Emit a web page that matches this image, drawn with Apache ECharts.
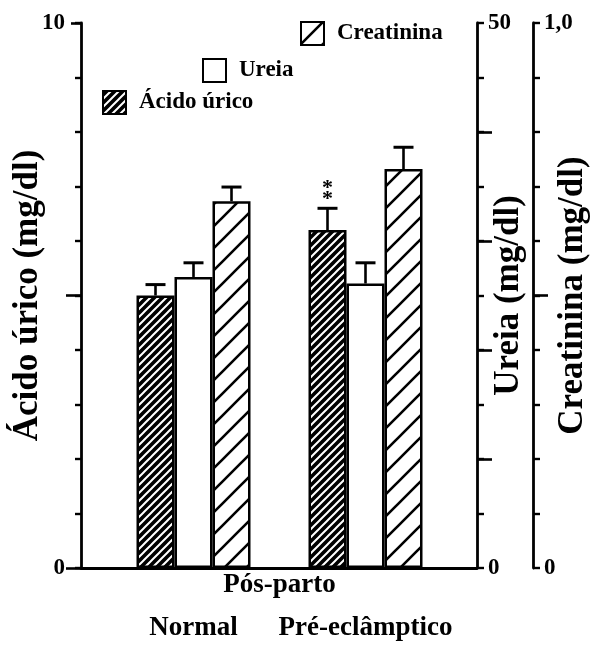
<!DOCTYPE html>
<html>
<head>
<meta charset="utf-8">
<script src="https://cdn.jsdelivr.net/npm/echarts@6/dist/echarts.min.js"></script>
<style>
  html, body { margin: 0; padding: 0; background: #fff; }
  #chart { width: 590px; height: 645px; }
</style>
</head>
<body>
<div id="chart"></div>
<script>
// Groups and measured means (error = standard error)
const groups = ['Normal', 'Pré-eclâmptico'];
const acidoUrico = [5.0, 6.2];
const acidoUricoErr = [0.2, 0.4];
const ureia = [26.7, 26.1];
const ureiaErr = [1.3, 1.9];
const creatinina = [0.673, 0.732];
const creatininaErr = [0.026, 0.04];
const significance = ['', '**'];

const FONT = "'Liberation Serif', 'Times New Roman', serif";
const INK = '#000';

// Diagonal "/" hatching tile
function hatchTile(size, bg, fg, width) {
  const c = document.createElement('canvas');
  c.width = size; c.height = size;
  const g = c.getContext('2d');
  g.fillStyle = bg; g.fillRect(0, 0, size, size);
  g.strokeStyle = fg; g.lineWidth = width;
  g.beginPath();
  for (let k = -1; k <= 1; k++) {
    g.moveTo(k * size - 1, size + 1);
    g.lineTo(k * size + size + 1, -1);
  }
  g.stroke();
  return { image: c, repeat: 'repeat' };
}
const denseHatch = hatchTile(8, '#000', '#fff', 2.0);
const wideHatch = hatchTile(22, '#fff', '#000', 2.6);

const BAR_W = 38;
const axisLineStyle = { color: INK, width: 2.8 };
const tickLabel = { color: INK, fontFamily: FONT, fontWeight: 'bold', fontSize: 23 };
const axisName = { color: INK, fontFamily: FONT, fontWeight: 'bold', fontSize: 35 };

// Axis carrying only extra (longer) tick marks at chosen values
function tickOverlay(min, max, values, len, extra) {
  return Object.assign({
    type: 'value', gridIndex: 0, min: min, max: max,
    axisLine: { show: false },
    axisTick: { show: true, customValues: values, length: len, lineStyle: { color: INK, width: 2.6 } },
    axisLabel: { show: false },
    splitLine: { show: false }
  }, extra);
}

function errorSeries(values, errs, yIdx, offset, marks) {
  return {
    type: 'custom',
    xAxisIndex: 1,
    yAxisIndex: yIdx,
    z: 5,
    silent: true,
    data: values.map((v, i) => [i, v, v + errs[i]]),
    renderItem: function (params, api) {
      const base = api.coord([api.value(0), api.value(1)]);
      const top = api.coord([api.value(0), api.value(2)]);
      const x = base[0] + offset;
      const children = [
        { type: 'line', shape: { x1: x, y1: base[1], x2: x, y2: top[1] },
          style: { stroke: INK, lineWidth: 2.6 } },
        { type: 'line', shape: { x1: x - 10, y1: top[1], x2: x + 10, y2: top[1] },
          style: { stroke: INK, lineWidth: 3 } }
      ];
      const mark = marks ? marks[params.dataIndex] : '';
      if (mark) {
        children.push({
          type: 'text',
          style: {
            x: x, y: top[1] - 3,
            text: mark.split('').join('\n'),
            align: 'center', verticalAlign: 'bottom',
            font: 'bold 22px ' + FONT, lineHeight: 11, fill: INK
          }
        });
      }
      return { type: 'group', children: children };
    }
  };
}

function legendFor(name, left, top) {
  return {
    data: [name], left: left, top: top, padding: 0,
    icon: 'rect', itemWidth: 23, itemHeight: 23, selectedMode: false,
    textStyle: { color: INK, fontFamily: FONT, fontWeight: 'bold', fontSize: 23, padding: [0, 0, 0, 8] }
  };
}

const chart = echarts.init(document.getElementById('chart'), null, { renderer: 'canvas' });

chart.setOption({
  animation: false,
  backgroundColor: '#fff',
  grid: [
    { left: 81, right: 113, top: 23, bottom: 77, outerBoundsMode: 'none' },
    { left: 107.5, right: 138.5, top: 23, bottom: 77, outerBoundsMode: 'none' }
  ],
  legend: [
    legendFor('Creatinina', 300, 21),
    legendFor('Ureia', 202, 58),
    legendFor('Ácido úrico', 102, 90)
  ],
  xAxis: [
    { type: 'value', gridIndex: 0, min: 0, max: 1, position: 'bottom',
      axisLine: { show: true, lineStyle: axisLineStyle },
      axisTick: { show: false }, axisLabel: { show: false }, splitLine: { show: false } },
    { type: 'category', gridIndex: 1, data: groups, position: 'bottom',
      axisLine: { show: false }, axisTick: { show: false },
      axisLabel: Object.assign({}, tickLabel, { margin: 47, fontSize: 27, interval: 0, hideOverlap: false }),
      name: 'Pós-parto', nameLocation: 'middle', nameGap: 4, nameMoveOverlap: false,
      nameTextStyle: { color: INK, fontFamily: FONT, fontWeight: 'bold', fontSize: 27 } }
  ],
  yAxis: [
    // 0: Ácido úrico (left)
    { type: 'value', gridIndex: 0, position: 'left', min: 0, max: 10, interval: 1,
      axisLine: { show: true, lineStyle: axisLineStyle },
      axisTick: { show: true, length: 6, lineStyle: { color: INK, width: 2.4 } },
      axisLabel: Object.assign({ margin: 16, formatter: v => (v === 0 || v === 10) ? String(v) : '' }, tickLabel),
      splitLine: { show: false },
      name: 'Ácido úrico (mg/dl)', nameLocation: 'middle', nameRotate: 90, nameGap: 36,
      nameMoveOverlap: false, nameTextStyle: axisName },
    // 1, 2: longer ticks on the left axis
    tickOverlay(0, 10, [0, 5], 15, { position: 'left' }),
    tickOverlay(0, 10, [10], 10, { position: 'left' }),
    // 3: Ureia (first right axis)
    { type: 'value', gridIndex: 0, position: 'right', min: 0, max: 50, interval: 5,
      axisLine: { show: true, lineStyle: axisLineStyle },
      axisTick: { show: true, length: 7, lineStyle: { color: INK, width: 2.4 } },
      axisLabel: Object.assign({ margin: 11, formatter: v => (v === 0 || v === 50) ? String(v) : '' }, tickLabel),
      splitLine: { show: false },
      name: 'Ureia (mg/dl)', nameLocation: 'middle', nameRotate: 90, nameGap: 14,
      nameMoveOverlap: false, nameTextStyle: axisName },
    // 4: longer ticks on the Ureia axis
    tickOverlay(0, 50, [10, 20, 30, 40], 15, { position: 'right' }),
    // 5: Creatinina (second right axis)
    { type: 'value', gridIndex: 0, position: 'right', offset: 56, min: 0, max: 1, interval: 0.1,
      axisLine: { show: true, lineStyle: axisLineStyle },
      axisTick: { show: true, length: 7, lineStyle: { color: INK, width: 2.4 } },
      axisLabel: Object.assign({ margin: 11, formatter: function (v) {
        if (Math.abs(v) < 1e-9) return '0';
        if (Math.abs(v - 1) < 1e-9) return '1,0';
        return '';
      } }, tickLabel),
      splitLine: { show: false },
      name: 'Creatinina (mg/dl)', nameLocation: 'middle', nameRotate: 90, nameGap: 22,
      nameMoveOverlap: false, nameTextStyle: axisName },
    // 6: longer tick at 0,5 on the Creatinina axis
    tickOverlay(0, 1, [0.5], 15, { position: 'right', offset: 56 }),
    // 7-9: scales used by the bars
    { type: 'value', gridIndex: 1, min: 0, max: 10, show: false },
    { type: 'value', gridIndex: 1, min: 0, max: 50, show: false },
    { type: 'value', gridIndex: 1, min: 0, max: 1, show: false }
  ],
  series: [
    { name: 'Ácido úrico', type: 'bar', xAxisIndex: 1, yAxisIndex: 7, data: acidoUrico,
      barWidth: BAR_W, barGap: '0%',
      itemStyle: { color: denseHatch, borderColor: INK, borderWidth: 2.5 } },
    { name: 'Ureia', type: 'bar', xAxisIndex: 1, yAxisIndex: 8, data: ureia,
      barWidth: BAR_W, barGap: '0%',
      itemStyle: { color: '#fff', borderColor: INK, borderWidth: 2.5 } },
    { name: 'Creatinina', type: 'bar', xAxisIndex: 1, yAxisIndex: 9, data: creatinina,
      barWidth: BAR_W, barGap: '0%',
      itemStyle: { color: wideHatch, borderColor: INK, borderWidth: 2.5 } },
    errorSeries(acidoUrico, acidoUricoErr, 7, -BAR_W, significance),
    errorSeries(ureia, ureiaErr, 8, 0, null),
    errorSeries(creatinina, creatininaErr, 9, BAR_W, null)
  ]
});
</script>
</body>
</html>
